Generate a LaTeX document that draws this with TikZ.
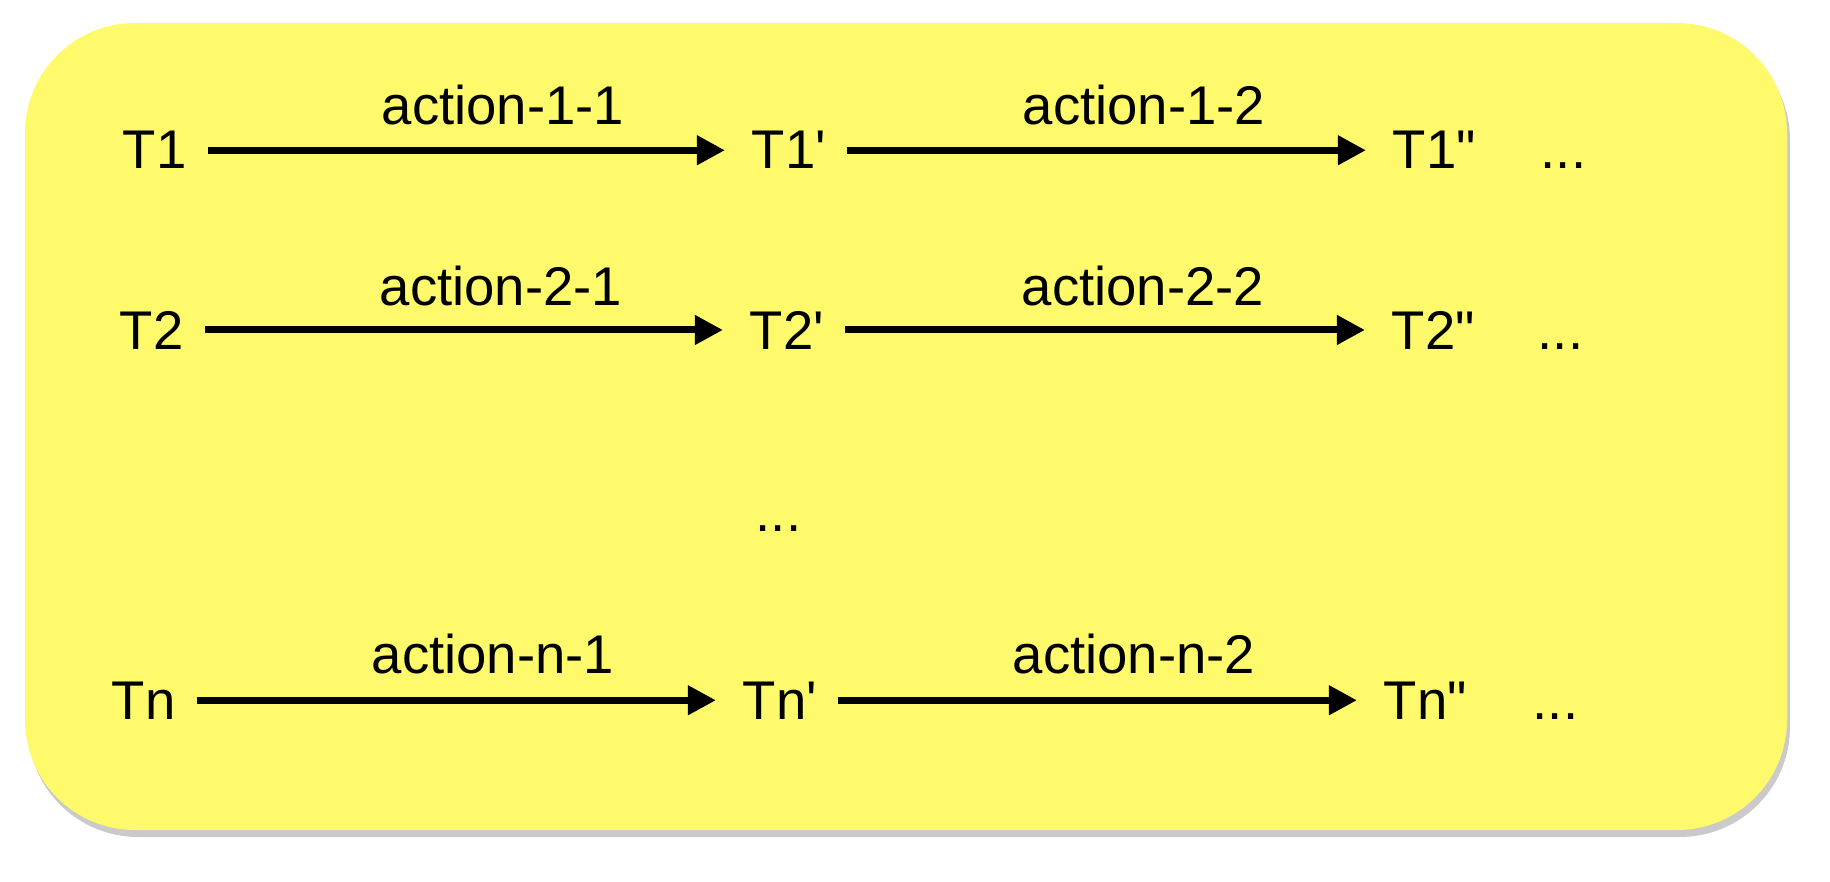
\documentclass[tikz,border=0pt]{standalone}
\usepackage{fontspec}
\setmainfont{Liberation Sans}[Ligatures=TeXOff]
\usetikzlibrary{arrows.meta,shadows}
\definecolor{BoxClr}{RGB}{255,250,108}

\begin{document}
\begin{tikzpicture}[x=0.01cm,y=-0.01cm,
  txt/.style={anchor=base west,inner sep=0pt,font=\fontsize{15.5}{18}\selectfont},
  act/.style={-{Triangle[length=0.28cm,width=0.28cm]},line width=0.07cm,
    shorten <=0.21cm,shorten >=0.26cm}]
\useasboundingbox (0,0) rectangle (1830,882);

\fill[BoxClr,rounded corners=1.1cm,
  drop shadow={shadow xshift=0.03cm,shadow yshift=-0.07cm,fill=black!60,opacity=0.35}]
  (25,23) rectangle (1787,830);

\node[txt] (T1) at (122,169) {T1};
\node[txt] (T1p) at (751,169) {T1'};
\node[txt] (T1pp) at (1392,169) {T1"};
\node[txt] (D1) at (1540,169) {...};
\node[txt] (A11) at (381,125) {action-1-1};
\node[txt] (A12) at (1022,125) {action-1-2};

\node[txt] (T2) at (119,349) {T2};
\node[txt] (T2p) at (749,349) {T2'};
\node[txt] (T2pp) at (1391,349) {T2"};
\node[txt] (D2) at (1537,349) {...};
\node[txt] (A21) at (379,305) {action-2-1};
\node[txt] (A22) at (1021,305) {action-2-2};

\node[txt] (DM) at (755,531) {...};

\node[txt] (Tn) at (111,719) {Tn};
\node[txt] (Tnp) at (742,719) {Tn'};
\node[txt] (Tnpp) at (1383,719) {Tn"};
\node[txt] (Dn) at (1532,719) {...};
\node[txt] (An1) at (371,673) {action-n-1};
\node[txt] (An2) at (1012,673) {action-n-2};

\draw[act] (T1.east) -- (T1p.west |- T1.east);
\draw[act] (T1p.east) -- (T1pp.west |- T1p.east);
\draw[act] (T2.east) -- (T2p.west |- T2.east);
\draw[act] (T2p.east) -- (T2pp.west |- T2p.east);
\draw[act] (Tn.east) -- (Tnp.west |- Tn.east);
\draw[act] (Tnp.east) -- (Tnpp.west |- Tnp.east);

\end{tikzpicture}
\end{document}
